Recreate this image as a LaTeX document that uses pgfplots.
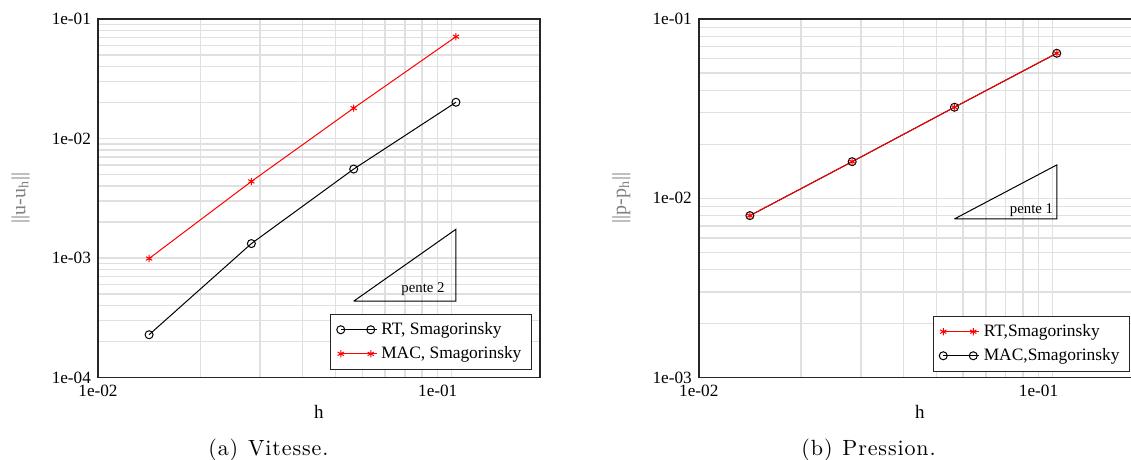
\documentclass[border=0pt]{standalone}
\usepackage{pgfplots}
\pgfplotsset{compat=1.18}
\usepackage{pgfplotstable}
\usepackage{fontspec}
\newfontfamily\tnr{Liberation Serif}
\newfontfamily\capfont{lmroman10-regular}[Extension=.otf, LetterSpace=4]

\pgfplotstableread{
h rt mac
0.01414 2.28e-4 9.9e-4
0.02828 1.32e-3 4.37e-3
0.05657 5.55e-3 1.795e-2
0.11314 2.01e-2 7.11e-2
}\leftdata

\pgfplotstableread{
h rt mac
0.01414 0.0080 0.0080
0.02828 0.0160 0.0160
0.05657 0.0322 0.0322
0.11314 0.0644 0.0644
}\rightdata

\pgfplotsset{
  legend image code/.code={\draw[#1] plot coordinates {(0pt,0pt) (15pt,0pt)}; \path (0pt,0pt) -- (18pt,0pt);},
  major grid style={black!12, line width=0.7pt},
  minor grid style={black!12, line width=0.7pt},
  axis line style={black!85, line width=0.9pt},
  tick label style={font=\tnr\fontsize{8.6}{10}\selectfont},
  every axis x label/.style={at={(axis description cs:0.5,-0.114)}, anchor=base, font=\tnr\fontsize{9.5}{10}\selectfont},
  every axis y label/.style={at={(axis description cs:-0.175,0.5)}, rotate=90, anchor=center, font=\tnr\fontsize{10}{11}\selectfont, text=black!50},
  legend style={draw=black!85, line width=0.6pt, font=\tnr\fontsize{8.7}{10}\selectfont, inner xsep=3pt, inner ysep=2pt, row sep=0.5pt},
}

\begin{document}
\begin{tikzpicture}
\begin{axis}[xmode=log, ymode=log, scale only axis, width=221pt, height=179.25pt,
  at={(49pt,41.25pt)}, anchor=south west,
  xmin=0.01, xmax=0.2,
  xtick={0.01,0.1}, xticklabels={1e-02,1e-01},
  minor xtick={0.02,0.03,0.04,0.05,0.06,0.07,0.08,0.09,0.11},
  grid=both, major tick length=0pt, minor tick length=0pt,
  xlabel={h}, legend cell align=left,
  ymin=1e-4, ymax=1e-1,
  ytick={1e-4,1e-3,1e-2,1e-1}, yticklabels={1e-04,1e-03,1e-02,1e-01},
  minor ytick={2e-4,3e-4,4e-4,5e-4,6e-4,7e-4,8e-4,9e-4,2e-3,3e-3,4e-3,5e-3,6e-3,7e-3,8e-3,9e-3,2e-2,3e-2,4e-2,5e-2,6e-2,7e-2,8e-2,9e-2},
  ylabel={||u-u\textsubscript{h}||},
  legend style={at={(axis description cs:0.982,0.021)}, anchor=south east}]
\addplot[black, line width=0.5pt, mark=o, mark size=2pt] table[x=h,y=rt] {\leftdata};
\addlegendentry{RT, Smagorinsky}
\addplot[red, line width=0.5pt, mark=asterisk, mark size=1.8pt] table[x=h,y=mac] {\leftdata};
\addlegendentry{MAC, Smagorinsky}
\addplot[black, line width=0.5pt, mark=none, forget plot] coordinates {(0.05657,4.35e-4) (0.11314,4.35e-4) (0.11314,1.74e-3) (0.05657,4.35e-4)};
\node[anchor=base east, inner sep=0pt, font=\tnr\fontsize{7.4}{9}\selectfont] at (axis cs:0.105,5.1e-4) {pente 2};
\end{axis}

\begin{axis}[xmode=log, ymode=log, scale only axis, width=221pt, height=179.25pt,
  at={(349.4pt,41.25pt)}, anchor=south west,
  xmin=0.01, xmax=0.2,
  xtick={0.01,0.1}, xticklabels={1e-02,1e-01},
  minor xtick={0.02,0.03,0.04,0.05,0.06,0.07,0.08,0.09,0.11},
  grid=both, major tick length=0pt, minor tick length=0pt,
  xlabel={h}, legend cell align=left,
  ymin=1e-3, ymax=1e-1,
  ytick={1e-3,1e-2,1e-1}, yticklabels={1e-03,1e-02,1e-01},
  minor ytick={2e-3,3e-3,4e-3,5e-3,6e-3,7e-3,8e-3,9e-3,2e-2,3e-2,4e-2,5e-2,6e-2,7e-2,8e-2,9e-2},
  ylabel={||p-p\textsubscript{h}||},
  legend style={at={(axis description cs:0.976,0.0156)}, anchor=south east}]
\addlegendimage{red, line width=0.5pt, mark=asterisk, mark size=1.8pt}
\addlegendentry{RT,Smagorinsky}
\addlegendimage{black, line width=0.5pt, mark=o, mark size=2pt}
\addlegendentry{MAC,Smagorinsky}
\addplot[black, line width=0.5pt, mark=o, mark size=2pt, mark options={fill=red!85!black}, forget plot] table[x=h,y=mac] {\rightdata};
\addplot[red, line width=0.5pt, mark=asterisk, mark size=1.8pt, forget plot] table[x=h,y=rt] {\rightdata};
\addplot[black, line width=0.5pt, mark=none, forget plot] coordinates {(0.05657,7.67e-3) (0.11314,7.67e-3) (0.11314,1.534e-2) (0.05657,7.67e-3)};
\node[anchor=base east, inner sep=0pt, font=\tnr\fontsize{7.4}{9}\selectfont] at (axis cs:0.1107,8.24e-3) {pente 1};
\end{axis}

\node[anchor=base, font=\capfont\fontsize{11}{13}\selectfont] at (134.2pt,2.25pt) {(a)\hspace{0.45em}Vitesse.};
\node[anchor=base, font=\capfont\fontsize{11}{13}\selectfont] at (434.3pt,2.25pt) {(b)\hspace{0.45em}Pression.};

\pgfresetboundingbox
\path[use as bounding box] (0pt,0pt) rectangle (565.5pt,230pt);
\end{tikzpicture}
\end{document}
